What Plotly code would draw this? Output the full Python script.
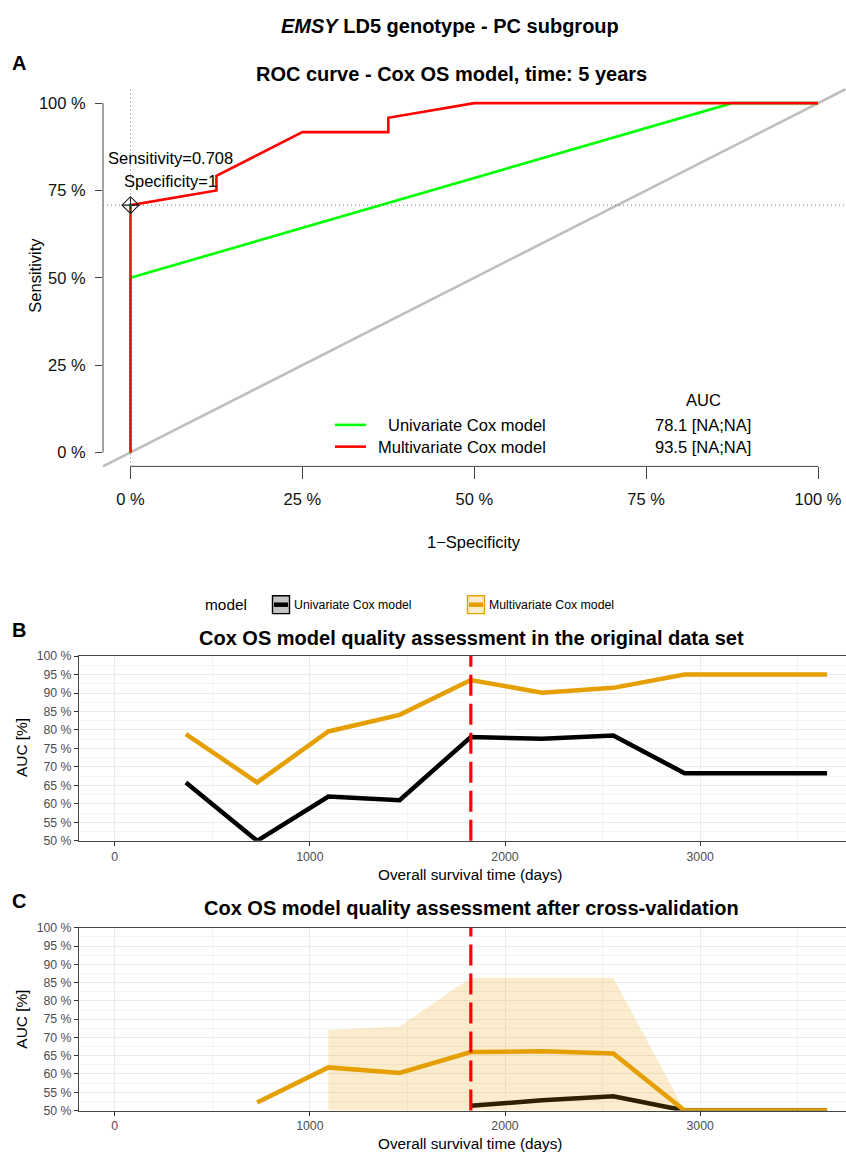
import plotly.graph_objects as go

W, H = 846, 1161
FONT = "Liberation Sans, Arial, sans-serif"

# ---------------- data ----------------
# Panel A: ROC curve (time = 5 years)
roc_fpr_uni = [0.0, 0.0, 0.875, 1.0]
roc_tpr_uni = [0.0, 0.5, 1.0, 1.0]
roc_fpr_multi = [0.0, 0.0, 0.125, 0.125, 0.25, 0.375, 0.375, 0.5, 1.0]
roc_tpr_multi = [0.0, 0.708, 0.75, 0.792, 0.917, 0.917, 0.958, 1.0, 1.0]
best_fpr, best_tpr = 0.0, 0.708
model_names = ["Univariate Cox model", "Multivariate Cox model"]
auc_labels = ["78.1 [NA;NA]", "93.5 [NA;NA]"]
pct_ticks = [0, 0.25, 0.5, 0.75, 1.0]
pct_text = ["0 %", "25 %", "50 %", "75 %", "100 %"]

# Panel B: AUC over time, original data set
days = [365, 730, 1095, 1460, 1825, 2190, 2555, 2920, 3650]
auc_uni_orig = [65.8, 50.0, 62.0, 61.0, 78.1, 77.6, 78.5, 68.3, 68.3]
auc_multi_orig = [78.9, 65.8, 79.6, 84.1, 93.5, 90.1, 91.4, 95.0, 95.0]

# Panel C: AUC over time after cross-validation
cv_days_uni = [1825, 2190, 2555, 2920, 3650]
auc_uni_cv = [51.3, 52.8, 53.9, 50.0, 50.0]
cv_days_multi = [730, 1095, 1460, 1825, 2190, 2555, 2920, 3650]
auc_multi_cv = [52.2, 61.8, 60.3, 66.0, 66.2, 65.6, 50.0, 50.0]
ribbon_days = [1095, 1460, 1825, 2190, 2555, 2920, 3650]
ribbon_upper = [72.0, 73.0, 86.3, 86.3, 86.3, 50.0, 50.0]
ribbon_lower = [50.0, 50.0, 50.0, 50.0, 50.0, 50.0, 50.0]
cutoff_days = 1825

# ---------------- helpers ----------------
def px(p):
    return p / W


def py(p):
    return 1 - p / H


ORANGE = "#E69F00"

fig = go.Figure()

# ---------- Panel A ----------
fig.add_trace(go.Scatter(x=roc_fpr_uni, y=roc_tpr_uni, mode="lines",
                         line=dict(color="#00FF00", width=2.6),
                         xaxis="x", yaxis="y", showlegend=False, hoverinfo="skip"))
fig.add_trace(go.Scatter(x=roc_fpr_multi, y=roc_tpr_multi, mode="lines",
                         line=dict(color="#FF0000", width=2.6),
                         xaxis="x", yaxis="y", showlegend=False, hoverinfo="skip"))
fig.add_trace(go.Scatter(x=[best_fpr], y=[best_tpr], mode="markers",
                         marker=dict(symbol="diamond-cross-open", size=13, color="#111",
                                     line=dict(width=1.1, color="#111")),
                         xaxis="x", yaxis="y", showlegend=False, hoverinfo="skip",
                         cliponaxis=False))

# ---------- Panel B ----------
fig.add_trace(go.Scatter(x=days, y=auc_uni_orig, mode="lines",
                         line=dict(color="#000000", width=4.5),
                         xaxis="x2", yaxis="y2", showlegend=False))
fig.add_trace(go.Scatter(x=days, y=auc_multi_orig, mode="lines",
                         line=dict(color=ORANGE, width=4.5),
                         xaxis="x2", yaxis="y2", showlegend=False))

# ---------- Panel C ----------
fig.add_trace(go.Scatter(x=cv_days_uni, y=auc_uni_cv, mode="lines",
                         line=dict(color="#000000", width=4.5),
                         xaxis="x3", yaxis="y3", showlegend=False))
fig.add_trace(go.Scatter(x=ribbon_days + ribbon_days[::-1],
                         y=ribbon_upper + ribbon_lower[::-1],
                         fill="toself", fillcolor="rgba(230,159,0,0.2)",
                         line=dict(width=0), mode="lines",
                         xaxis="x3", yaxis="y3", showlegend=False))
fig.add_trace(go.Scatter(x=cv_days_multi, y=auc_multi_cv, mode="lines",
                         line=dict(color=ORANGE, width=4.5),
                         xaxis="x3", yaxis="y3", showlegend=False))

# ---------------- axes ----------------
A_left, A_right, A_top, A_bot = 103, 845.5, 83.2, 465
fig.update_layout(
    xaxis=dict(domain=[px(A_left), px(A_right)], range=[-0.04, 1.04], anchor="y",
               showgrid=False, zeroline=False, showline=False,
               tickvals=pct_ticks, ticktext=pct_text, ticks="outside", ticklen=12,
               tickcolor="#444", tickwidth=1,
               tickfont=dict(family=FONT, size=16.5, color="#111"), ticklabelstandoff=6),
    yaxis=dict(domain=[py(A_bot), py(A_top)], range=[-0.04, 1.04], anchor="x",
               showgrid=False, zeroline=False, showline=False,
               tickvals=pct_ticks, ticktext=pct_text, ticks="outside", ticklen=7,
               tickcolor="#444", tickwidth=1,
               tickfont=dict(family=FONT, size=16.5, color="#111"), ticklabelstandoff=6),
)

def gg_axes(top, bot):
    xa = dict(domain=[px(79), 1.0], range=[-182.5, 3747], showgrid=True,
              gridcolor="#EBEBEB", gridwidth=1, zeroline=False,
              showline=True, linecolor="#444", linewidth=1, mirror=True,
              tick0=0, dtick=1000, ticks="outside", ticklen=4, tickcolor="#333",
              tickfont=dict(family=FONT, size=12.3, color="#4D4D4D"),
              minor=dict(dtick=500, showgrid=True, gridcolor="#F3F3F3", gridwidth=0.8))
    ya = dict(domain=[py(bot), py(top)], range=[50, 100], showgrid=True,
              gridcolor="#EBEBEB", gridwidth=1, zeroline=False,
              showline=True, linecolor="#444", linewidth=1,
              tick0=50, dtick=5, ticksuffix=" %", ticks="outside", ticklen=4,
              tickcolor="#333",
              tickfont=dict(family=FONT, size=12.3, color="#4D4D4D"),
              minor=dict(dtick=2.5, showgrid=True, gridcolor="#F3F3F3", gridwidth=0.8))
    return xa, ya

xa2, ya2 = gg_axes(657, 844)
xa3, ya3 = gg_axes(932, 1117)
xa2["anchor"] = "y2"; ya2["anchor"] = "x2"
xa3["anchor"] = "y3"; ya3["anchor"] = "x3"
fig.update_layout(xaxis2=xa2, yaxis2=ya2, xaxis3=xa3, yaxis3=ya3)

# ---------------- shapes ----------------
shapes = []
# Panel A: chance diagonal, axis lines, dotted threshold lines
shapes.append(dict(type="line", xref="x domain", yref="y domain", x0=0, y0=0, x1=1, y1=1,
                   line=dict(color="#BEBEBE", width=2.6), layer="below"))
shapes.append(dict(type="line", xref="x", yref="y domain", x0=pct_ticks[0], x1=pct_ticks[-1],
                   y0=0, y1=0, line=dict(color="#444", width=1)))
shapes.append(dict(type="line", xref="x domain", yref="y", x0=0, x1=0,
                   y0=pct_ticks[0], y1=pct_ticks[-1], line=dict(color="#444", width=1)))
shapes.append(dict(type="line", xref="x", yref="y domain", x0=best_fpr, x1=best_fpr, y0=0, y1=1,
                   line=dict(color="#777", width=1, dash="1px,3px")))
shapes.append(dict(type="line", xref="x domain", yref="y", x0=0, x1=1, y0=best_tpr, y1=best_tpr,
                   line=dict(color="#777", width=1, dash="1px,3px")))
# Panel A legend line keys
for yy, col in [(423, "#00FF00"), (445, "#FF0000")]:
    shapes.append(dict(type="line", xref="paper", yref="paper", x0=px(335), x1=px(366),
                       y0=py(yy), y1=py(yy), line=dict(color=col, width=2.6)))
# Panels B/C: 5-year cutoff
for xr, yr in [("x2", "y2 domain"), ("x3", "y3 domain")]:
    shapes.append(dict(type="line", xref=xr, yref=yr, x0=cutoff_days, x1=cutoff_days, y0=0, y1=1,
                       line=dict(color="#FF0000", width=3.2, dash="21px,8px")))
# Panel B legend keys
for x0, fillc, linec in [(272.5, "#C4C4C4", "#000000"), (467.5, "rgba(230,159,0,0.2)", ORANGE)]:
    shapes.append(dict(type="rect", xref="paper", yref="paper", x0=px(x0), x1=px(x0 + 17),
                       y0=py(614), y1=py(596), fillcolor=fillc, line=dict(color=linec, width=1.4)))
    shapes.append(dict(type="line", xref="paper", yref="paper", x0=px(x0 + 1.5), x1=px(x0 + 15.5),
                       y0=py(605), y1=py(605), line=dict(color=linec, width=4.5)))
fig.update_layout(shapes=shapes)

# ---------------- annotations ----------------
ann = []

def text(t, x, y, size, xanchor="center", angle=0, color="#000", bold=False):
    if bold:
        t = "<b>" + t + "</b>"
    ann.append(dict(text=t, x=px(x), y=py(y), xref="paper", yref="paper", showarrow=False,
                    xanchor=xanchor, yanchor="middle", textangle=angle,
                    font=dict(family=FONT, size=size, color=color)))

text("<i>EMSY</i> LD5 genotype - PC subgroup", 450, 19, 20, bold=True)
text("A", 19, 57, 20, bold=True)
text("ROC curve - Cox OS model, time: 5 years", 451, 68, 20, bold=True)
text("Sensitivity", 35, 272, 16.5, angle=-90)
text("1\u2212Specificity", 474, 542, 16.5)
text("Sensitivity=0.708", 170, 153, 16.5)
text("Specificity=1", 170, 176, 16.5)
text("AUC", 703, 398, 16.5)
text(model_names[0], 548, 423, 16.5, xanchor="right")
text(model_names[1], 548, 445, 16.5, xanchor="right")
text(auc_labels[0], 703, 423, 16.5)
text(auc_labels[1], 703, 445, 16.5)

text("model", 226, 605, 15.4)
text(model_names[0], 292, 605, 12.3, xanchor="left")
text(model_names[1], 487, 605, 12.3, xanchor="left")
text("B", 19, 631, 20, bold=True)
text("Cox OS model quality assessment in the original data set", 471, 639, 20, bold=True)
text("AUC [%]", 22, 750, 15.4, angle=-90)
text("Overall survival time (days)", 470, 878, 15.3)

text("C", 19, 905, 20, bold=True)
text("Cox OS model quality assessment after cross-validation", 471, 912, 20, bold=True)
text("AUC [%]", 22, 1025, 15.4, angle=-90)
text("Overall survival time (days)", 470, 1150, 15.3)

fig.update_layout(annotations=ann)

fig.update_layout(width=W, height=H, margin=dict(l=0, r=0, t=0, b=0),
                  paper_bgcolor="white", plot_bgcolor="white", showlegend=False,
                  font=dict(family=FONT))

fig.write_html("out.html", config={"displayModeBar": False})
